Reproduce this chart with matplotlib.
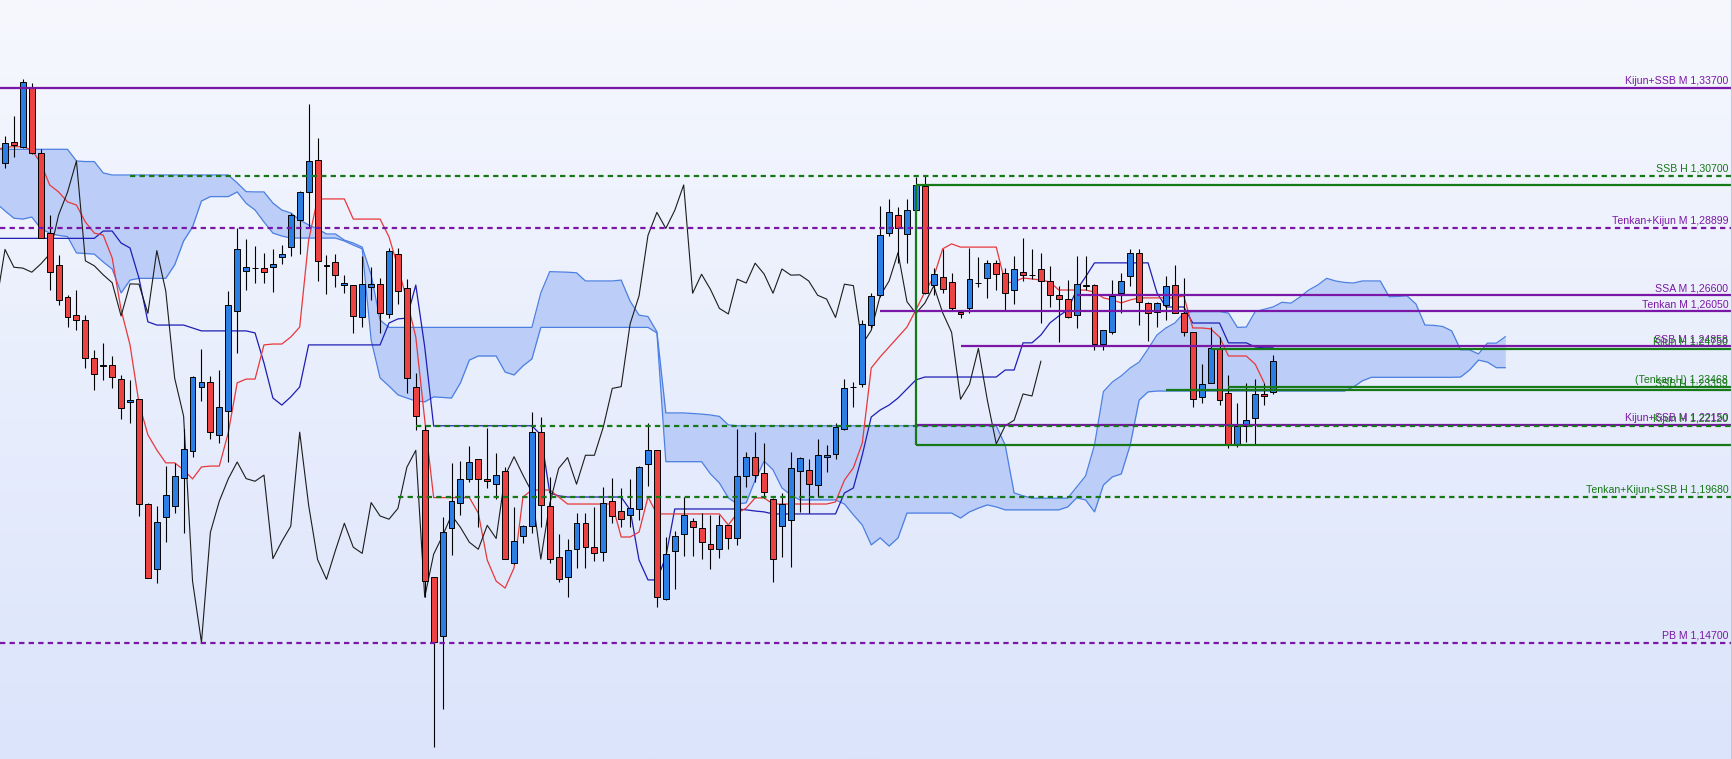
import numpy as np
import matplotlib.pyplot as plt
from matplotlib.colors import LinearSegmentedColormap

# --- candles (bar 0 .. 142) ---
open_ = [1.3114, 1.3185, 1.3167, 1.3370, 1.3149, 1.2872, 1.2764, 1.2653, 1.2591, 1.2577,
         1.2444, 1.2421, 1.2421, 1.2372, 1.2293, 1.2304, 1.1945, 1.1721, 1.1899, 1.1938,
         1.2033, 1.2125, 1.2347, 1.2362, 1.2180, 1.2264, 1.2606, 1.2742, 1.2754, 1.2753,
         1.2758, 1.2790, 1.2824, 1.2918, 1.3013, 1.3122, 1.2762, 1.2773, 1.2694, 1.2694,
         1.2587, 1.2690, 1.2699, 1.2596, 1.2800, 1.2684, 1.2345, 1.2198, 1.1694, 1.1493,
         1.1862, 1.1950, 1.2032, 1.2098, 1.2030, 1.2013, 1.2057, 1.1742, 1.1834, 1.1870,
         1.2191, 1.1938, 1.1762, 1.1694, 1.1790, 1.1879, 1.1797, 1.1779, 1.1956, 1.1920,
         1.1906, 1.1927, 1.2081, 1.2129, 1.1618, 1.1783, 1.1842, 1.1886, 1.1862, 1.1808,
         1.1790, 1.1872, 1.1827, 1.2042, 1.2107, 1.2050, 1.1961, 1.1870, 1.1889, 1.2058,
         1.2062, 1.2009, 1.2105, 1.2115, 1.2201, 1.2346, 1.2355, 1.2558, 1.2660, 1.2872,
         1.2934, 1.2869, 1.2951, 1.3034, 1.2695, 1.2722, 1.2707, 1.2604, 1.2615, 1.2703,
         1.2718, 1.2769, 1.2735, 1.2677, 1.2739, 1.2731, 1.2749, 1.2709, 1.2660, 1.2646,
         1.2592, 1.2694, 1.2695, 1.2492, 1.2535, 1.2667, 1.2726, 1.2806, 1.2633, 1.2602,
         1.2627, 1.2694, 1.2600, 1.2535, 1.2311, 1.2359, 1.2478, 1.2324, 1.2151, 1.2213,
         1.2239, 1.2322, 1.2330]
high = [1.3206, 1.3274, 1.3400, 1.3386, 1.3161, 1.2935, 1.2798, 1.2661, 1.2678, 1.2592,
        1.2473, 1.2495, 1.2452, 1.2387, 1.2370, 1.2304, 1.1950, 1.1938, 1.2075, 1.2087,
        1.2201, 1.2384, 1.2475, 1.2384, 1.2404, 1.2675, 1.2889, 1.2852, 1.2829, 1.2804,
        1.2817, 1.2832, 1.2943, 1.3018, 1.3315, 1.3198, 1.2798, 1.2800, 1.2730, 1.2694,
        1.2795, 1.2758, 1.2718, 1.2821, 1.2821, 1.2715, 1.2395, 1.2216, 1.1694, 1.1900,
        1.2084, 1.2092, 1.2144, 1.2098, 1.2204, 1.2119, 1.2071, 1.1936, 1.1873, 1.2259,
        1.2242, 1.2036, 1.1844, 1.1826, 1.1913, 1.1913, 1.1936, 1.2002, 1.2033, 1.1999,
        1.2030, 1.2075, 1.2224, 1.2129, 1.1833, 1.1854, 1.1968, 1.1896, 1.1915, 1.1907,
        1.1907, 1.1874, 1.2201, 1.2124, 1.2192, 1.2155, 1.1966, 1.1982, 1.2124, 1.2107,
        1.2099, 1.2169, 1.2147, 1.2224, 1.2372, 1.2364, 1.2575, 1.2667, 1.2966, 1.2989,
        1.2963, 1.2989, 1.3064, 1.3072, 1.2752, 1.2817, 1.2735, 1.2610, 1.2821, 1.2790,
        1.2781, 1.2781, 1.2752, 1.2795, 1.2855, 1.2818, 1.2804, 1.2760, 1.2692, 1.2712,
        1.2795, 1.2795, 1.2699, 1.2540, 1.2712, 1.2737, 1.2817, 1.2817, 1.2638, 1.2638,
        1.2726, 1.2764, 1.2720, 1.2535, 1.2424, 1.2550, 1.2516, 1.2387, 1.2292, 1.2358,
        1.2372, 1.2360, 1.2455]
low = [1.3095, 1.3133, 1.3165, 1.3143, 1.2856, 1.2678, 1.2627, 1.2552, 1.2541, 1.2410,
       1.2336, 1.2370, 1.2341, 1.2235, 1.2224, 1.1904, 1.1690, 1.1673, 1.1816, 1.1915,
       1.1847, 1.2107, 1.2299, 1.2166, 1.2155, 1.2090, 1.2461, 1.2678, 1.2703, 1.2703,
       1.2672, 1.2767, 1.2795, 1.2801, 1.2895, 1.2710, 1.2663, 1.2687, 1.2667, 1.2530,
       1.2552, 1.2644, 1.2530, 1.2581, 1.2629, 1.2326, 1.2198, 1.1628, 1.1114, 1.1242,
       1.1770, 1.1907, 1.2022, 1.1867, 1.1999, 1.1961, 1.1755, 1.1740, 1.1810, 1.1847,
       1.1867, 1.1744, 1.1679, 1.1628, 1.1725, 1.1725, 1.1751, 1.1751, 1.1881, 1.1867,
       1.1867, 1.1890, 1.2006, 1.1593, 1.1617, 1.1653, 1.1767, 1.1767, 1.1755, 1.1721,
       1.1759, 1.1790, 1.1804, 1.2002, 1.2022, 1.1966, 1.1679, 1.1762, 1.1730, 1.1919,
       1.1915, 1.1968, 1.2054, 1.2100, 1.2198, 1.2278, 1.2347, 1.2548, 1.2655, 1.2863,
       1.2770, 1.2772, 1.2950, 1.2665, 1.2661, 1.2667, 1.2607, 1.2581, 1.2600, 1.2690,
       1.2650, 1.2678, 1.2610, 1.2630, 1.2710, 1.2715, 1.2566, 1.2621, 1.2501, 1.2581,
       1.2547, 1.2678, 1.2473, 1.2473, 1.2527, 1.2598, 1.2692, 1.2558, 1.2504, 1.2550,
       1.2575, 1.2598, 1.2521, 1.2276, 1.2290, 1.2358, 1.2284, 1.2136, 1.2139, 1.2158,
       1.2151, 1.2284, 1.2322]
close = [1.3183, 1.3174, 1.3391, 1.3149, 1.2857, 1.2740, 1.2644, 1.2584, 1.2575, 1.2444,
         1.2390, 1.2419, 1.2379, 1.2273, 1.2301, 1.1945, 1.1691, 1.1882, 1.1976, 1.2041,
         1.2132, 1.2379, 1.2362, 1.2190, 1.2276, 1.2627, 1.2817, 1.2756, 1.2753, 1.2739,
         1.2767, 1.2801, 1.2935, 1.3013, 1.3120, 1.2778, 1.2761, 1.2730, 1.2703, 1.2589,
         1.2699, 1.2698, 1.2598, 1.2813, 1.2675, 1.2376, 1.2246, 1.1681, 1.1471, 1.1848,
         1.1955, 1.2031, 1.2089, 1.2032, 1.2023, 1.2044, 1.1758, 1.1817, 1.1869, 1.2191,
         1.1941, 1.1755, 1.1687, 1.1786, 1.1879, 1.1797, 1.1776, 1.1950, 1.1904, 1.1893,
         1.1930, 1.2071, 1.2129, 1.1626, 1.1773, 1.1836, 1.1907, 1.1865, 1.1814, 1.1790,
         1.1872, 1.1827, 1.2042, 1.2107, 1.2044, 1.1986, 1.1756, 1.1946, 1.2067, 1.2104,
         1.2013, 1.2112, 1.2112, 1.2209, 1.2341, 1.2347, 1.2562, 1.2658, 1.2865, 1.2944,
         1.2889, 1.2951, 1.3038, 1.2667, 1.2732, 1.2680, 1.2615, 1.2596, 1.2715, 1.2702,
         1.2770, 1.2733, 1.2667, 1.2750, 1.2729, 1.2730, 1.2709, 1.2660, 1.2647, 1.2584,
         1.2698, 1.2693, 1.2492, 1.2540, 1.2658, 1.2709, 1.2806, 1.2638, 1.2598, 1.2633,
         1.2692, 1.2600, 1.2533, 1.2304, 1.2355, 1.2478, 1.2301, 1.2151, 1.2213, 1.2232,
         1.2322, 1.2315, 1.2434]

# --- tenkan / kijun, bar -1 .. 142 ---
tenkan = [1.3158, 1.3167, 1.3169, 1.3169, 1.3158, 1.3113, 1.3038, 1.3014, 1.2980, 1.2969,
          1.2911, 1.2873, 1.2866, 1.2788, 1.2610, 1.2490, 1.2291, 1.2182, 1.2130, 1.2086,
          1.2086, 1.2062, 1.2031, 1.2072, 1.2075, 1.2075, 1.2189, 1.2360, 1.2373, 1.2373,
          1.2490, 1.2493, 1.2493, 1.2517, 1.2551, 1.2849, 1.2990, 1.2990, 1.2990, 1.2990,
          1.2921, 1.2921, 1.2921, 1.2921, 1.2860, 1.2757, 1.2644, 1.2517, 1.2233, 1.1967,
          1.1967, 1.1967, 1.1967, 1.1967, 1.1914, 1.1753, 1.1681, 1.1657, 1.1726, 1.1969,
          1.1993, 1.1993, 1.1993, 1.1969, 1.1945, 1.1945, 1.1945, 1.1945, 1.1945, 1.1945,
          1.1832, 1.1832, 1.1849, 1.1969, 1.1911, 1.1911, 1.1911, 1.1911, 1.1911, 1.1911,
          1.1911, 1.1911, 1.1873, 1.1914, 1.1931, 1.1966, 1.1966, 1.1945, 1.1945, 1.1945,
          1.1945, 1.1945, 1.1945, 1.1945, 1.1952, 1.2027, 1.2069, 1.2154, 1.2411, 1.2449,
          1.2483, 1.2517, 1.2551, 1.2610, 1.2671, 1.2723, 1.2819, 1.2836, 1.2825, 1.2825,
          1.2825, 1.2825, 1.2825, 1.2702, 1.2706, 1.2719, 1.2716, 1.2712, 1.2706, 1.2678,
          1.2678, 1.2678, 1.2678, 1.2671, 1.2651, 1.2644, 1.2634, 1.2644, 1.2651, 1.2651,
          1.2651, 1.2651, 1.2651, 1.2658, 1.2548, 1.2548, 1.2545, 1.2517, 1.2452, 1.2452,
          1.2452, 1.2424, 1.2360, np.nan]
kijun = ([1.2855] * 12 + [1.2880, 1.2880, 1.2839, 1.2822, 1.2719, 1.2569]
         + [1.2558] * 4 + [1.2548] + [1.2538] * 6 + [1.2531, 1.2428, 1.2308, 1.2284, 1.2312, 1.2346]
         + [1.2490] * 9 + [1.2565, 1.2579, 1.2582, 1.2695, 1.2483, 1.2212]
         + [1.2213] * 11 + [1.2182, 1.1983, 1.1973] + [1.1969] * 7
         + [1.1925, 1.1753, 1.1685, 1.1685, 1.1764] + [1.1928] * 8 + [1.1925, 1.1921, 1.1918]
         + [1.1911] * 8 + [1.1983, 1.2000, 1.2113, 1.2243, 1.2267, 1.2284, 1.2308, 1.2339, 1.2370]
         + [1.2380] * 9 + [1.2404, 1.2404, 1.2497, 1.2497, 1.2524, 1.2565, 1.2589, 1.2610, 1.2678, 1.2723]
         + [1.2771] * 7 + [1.2668] + [1.2620] * 3 + [1.2565] * 4 + [1.2497] * 3 + [1.2483, 1.2480, 1.2480])

# --- kumo edges, bar -1 .. 168 ---
cloud_upper = ([1.3160] * 9 + [1.3120, 1.3118, 1.3118, 1.3079] + [1.3072] * 14
               + [1.3045, 1.3015, 1.3014, 1.3014, 1.2976, 1.2952, 1.2942, 1.2918, 1.2901, 1.2887,
                  1.2870, 1.2870, 1.2849, 1.2839, 1.2825, 1.2730, 1.2575]
               + [1.2550] * 17 + [1.2668, 1.2741, 1.2740, 1.2739, 1.2737] + [1.2709] * 4
               + [1.2712, 1.2640, 1.2592, 1.2587, 1.2535, 1.2257, 1.2257, 1.2257, 1.2255, 1.2253,
                  1.2250, 1.2245, 1.2216]
               + [1.2213] * 30 + [1.2147, 1.1983, 1.1973] + [1.1965] * 5
               + [1.2003, 1.2041, 1.2147, 1.2330, 1.2363, 1.2384, 1.2411, 1.2431, 1.2476, 1.2524,
                  1.2548, 1.2565, 1.2599] + [1.2604] * 4
               + [1.2599, 1.2550, 1.2551, 1.2604, 1.2612, 1.2620, 1.2636, 1.2633, 1.2654, 1.2678,
                  1.2695, 1.2718, 1.2709, 1.2704, 1.2702, 1.2709, 1.2709, 1.2709, 1.2655, 1.2656,
                  1.2658, 1.2630, 1.2558, 1.2557, 1.2553, 1.2538, 1.2473, 1.2473, 1.2459, 1.2496,
                  1.2496, 1.2518])
cloud_lower = ([1.2976, 1.2949, 1.2924, 1.2921, 1.2928, 1.2889, 1.2873, 1.2865, 1.2861, 1.2805,
                1.2803, 1.2801, 1.2774, 1.2750, 1.2668, 1.2712, 1.2718, 1.2718, 1.2718, 1.2718,
                1.2764, 1.2846, 1.2894, 1.2983, 1.2998, 1.2998, 1.2998, 1.3014, 1.2975, 1.2952,
                1.2911, 1.2873, 1.2863] + [1.2856] * 6
               + [1.2846, 1.2832, 1.2819, 1.2507, 1.2377, 1.2349, 1.2319, 1.2308, 1.2298, 1.2295,
                  1.2312, 1.2310, 1.2308, 1.2360, 1.2438, 1.2452, 1.2452, 1.2452, 1.2397, 1.2387,
                  1.2418, 1.2442] + [1.2550] * 13 + [1.2531] + [1.2090] * 5
               + [1.2048, 1.2017, 1.1966, 1.1945, 1.1949, 1.2027, 1.2092, 1.2062, 1.2000, 1.1976]
               + [1.1959] * 5 + [1.1945, 1.1908, 1.1873, 1.1805, 1.1829, 1.1801, 1.1829]
               + [1.1914] * 6 + [1.1897, 1.1918, 1.1931, 1.1942, 1.1935] + [1.1925] * 7
               + [1.1935, 1.1966, 1.1959, 1.1918, 1.2010, 1.2038, 1.2048, 1.2147, 1.2301, 1.2329]
               + [1.2332] * 22 + [1.2346, 1.2367] + [1.2379] * 10
               + [1.2380, 1.2404, 1.2438, 1.2431, 1.2412, 1.2412])

# --- horizontal levels ---
level_price = [1.33700, 1.30700, 1.28899, 1.26600, 1.26050, 1.24858, 1.24750,
               1.23468, 1.23359, 1.22150, 1.22120, 1.19680, 1.14700]
level_label = ["Kijun+SSB M 1,33700", "SSB H 1,30700", "Tenkan+Kijun M 1,28899",
               "SSA M 1,26600", "Tenkan M 1,26050", "SSB M 1,24858", "Kijun H 1,24750",
               "(Tenkan H) 1,23468", "SSB H 1,23359", "Kijun+SSB M 1,22150",
               "Kijun H 1,22120", "Tenkan+Kijun+SSB H 1,19680", "PB M 1,14700"]
level_start = [-1, 14, -1, 120, 98, 107, 135, 137, 130, 102, 46, 44, -1]
level_dashed = [False, True, True, False, False, False, False,
                False, False, False, True, True, True]
box_top, box_bottom, box_start = 1.3038, 1.2147, 102

PURPLE = '#7b17a6'
GREEN = '#167816'

fig = plt.figure(figsize=(17.33, 7.59), dpi=100)
ax = fig.add_axes([0, 0, 1, 1])
xmin, xmax = -0.56, 193.5
ymin, ymax = 1.10716, 1.36714

bg = LinearSegmentedColormap.from_list('bg', ['#f6f8fe', '#dbe4fb'])
ax.imshow(np.linspace(0, 1, 256).reshape(-1, 1), extent=[xmin, xmax, ymin, ymax],
          origin='upper', cmap=bg, aspect='auto', zorder=0)

# kumo
cx = np.arange(-1, 169)
ax.fill_between(cx, cloud_upper, cloud_lower, color='#bccef8', lw=0, zorder=1)
ax.plot(cx, cloud_upper, color='#4c7fe2', lw=0.9, zorder=2)
ax.plot(cx, cloud_lower, color='#4c7fe2', lw=0.9, zorder=2)

# lines
tx = np.arange(-1, 143)
ax.plot(tx, kijun, color='#1e1eb4', lw=0.9, zorder=3)
ax.plot(tx, tenkan, color='#e8383a', lw=0.9, zorder=3)
chikou_x = np.arange(-1, 117)
ax.plot(chikou_x, close[25:], color='#1c1c1c', lw=0.8, zorder=3)

# candles
o = np.array(open_)
c = np.array(close)
x = np.arange(len(o))
cols = np.where(c > o, '#2b7fe4', '#ec4242')
ax.vlines(x, low, high, color='black', lw=0.8, zorder=4)
ax.bar(x, np.abs(c - o), bottom=np.minimum(o, c), width=0.66, color=cols,
       edgecolor='black', linewidth=0.7, zorder=5)

# levels
for p, lab, s, d in zip(level_price, level_label, level_start, level_dashed):
    col = GREEN if ' H ' in lab or lab.startswith('(') else PURPLE
    ax.hlines(p, max(s, xmin), xmax, color=col, lw=1.6,
              linestyles=(0, (2.4, 1.9)) if d else 'solid', zorder=6)
    ax.annotate(lab, xy=(1.0, p), xycoords=('axes fraction', 'data'),
                xytext=(-3.5, 2.8), textcoords='offset points', ha='right', va='baseline',
                color=col, fontsize=7.6, family=['Liberation Sans', 'DejaVu Sans'], zorder=7)

# green range box
ax.hlines([box_top, box_bottom], box_start, xmax, color=GREEN, lw=1.6, zorder=6)
ax.vlines(box_start, box_bottom, box_top, color=GREEN, lw=1.6, zorder=6)

ax.plot([0.9988, 0.9988], [0, 1], transform=ax.transAxes, color='#c2c9dc', lw=0.8, zorder=8)

ax.set_xlim(xmin, xmax)
ax.set_ylim(ymin, ymax)
ax.axis('off')
fig.savefig('out.png', dpi=100)
